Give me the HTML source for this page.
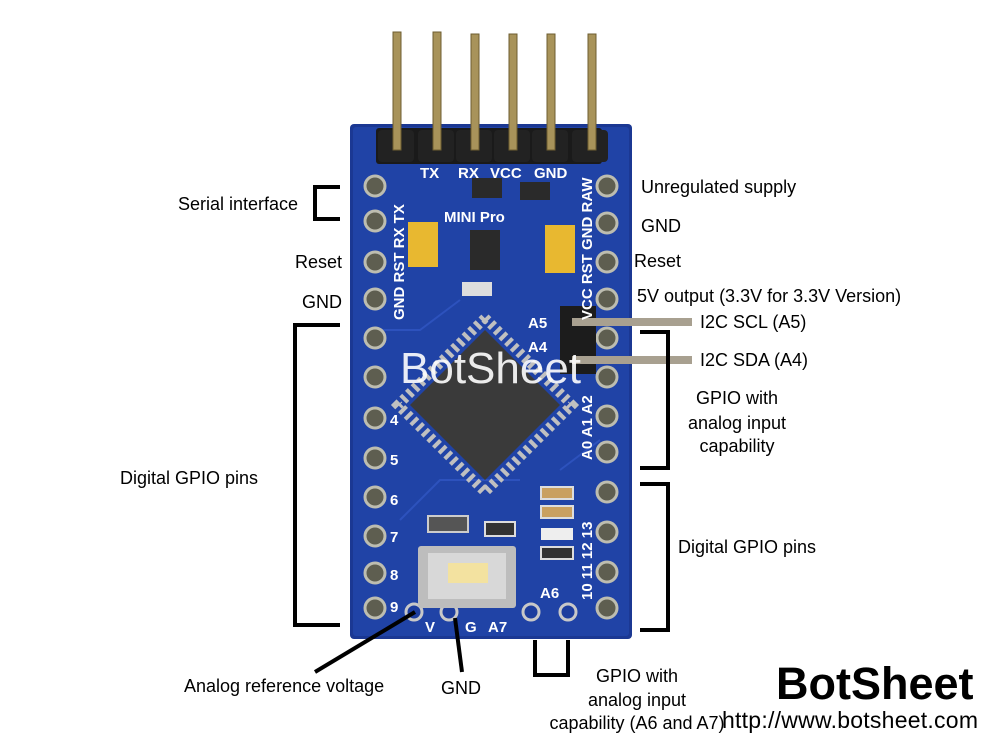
<!DOCTYPE html>
<html><head><meta charset="utf-8"><style>
html,body{margin:0;padding:0;background:#fff;width:1000px;height:750px;overflow:hidden}
svg{display:block}
text{font-family:"Liberation Sans",sans-serif;fill:#000}
</style></head><body>
<svg width="1000" height="750" viewBox="0 0 1000 750">
<rect x="350" y="124" width="282" height="515" rx="4" fill="#1b3893"/>
<rect x="353" y="127" width="276" height="509" rx="3" fill="#2043a6"/>
<g stroke="#2d52bd" stroke-width="2" fill="none">
<path d="M380 330 L420 330 L460 300"/><path d="M400 520 L440 480 L520 480"/><path d="M560 470 L600 440"/>
</g>
<rect x="376" y="128" width="226" height="36" rx="3" fill="#1a1a1a"/>
<g fill="#222"><rect x="378" y="130" width="36" height="32" rx="4"/><rect x="418" y="130" width="36" height="32" rx="4"/><rect x="456" y="130" width="36" height="32" rx="4"/><rect x="494" y="130" width="36" height="32" rx="4"/><rect x="532" y="130" width="36" height="32" rx="4"/><rect x="572" y="130" width="36" height="32" rx="4"/></g>
<g fill="#a8935a" stroke="#6e5e30" stroke-width="1">
<rect x="393" y="32" width="8" height="118"/><rect x="433" y="32" width="8" height="118"/><rect x="471" y="34" width="8" height="116"/><rect x="509" y="34" width="8" height="116"/><rect x="547" y="34" width="8" height="116"/><rect x="588" y="34" width="8" height="116"/>
</g>
<g fill="#5e5e50" stroke="#bdbdb0" stroke-width="3">
<circle cx="375" cy="186" r="10"/><circle cx="375" cy="221" r="10"/><circle cx="375" cy="262" r="10"/><circle cx="375" cy="299" r="10"/><circle cx="375" cy="338" r="10"/><circle cx="375" cy="377" r="10"/><circle cx="375" cy="418" r="10"/><circle cx="375" cy="458" r="10"/><circle cx="375" cy="497" r="10"/><circle cx="375" cy="536" r="10"/><circle cx="375" cy="573" r="10"/><circle cx="375" cy="608" r="10"/>
<circle cx="607" cy="186" r="10"/><circle cx="607" cy="223" r="10"/><circle cx="607" cy="262" r="10"/><circle cx="607" cy="299" r="10"/><circle cx="607" cy="338" r="10"/><circle cx="607" cy="377" r="10"/><circle cx="607" cy="416" r="10"/><circle cx="607" cy="452" r="10"/><circle cx="607" cy="492" r="10"/><circle cx="607" cy="532" r="10"/><circle cx="607" cy="572" r="10"/><circle cx="607" cy="608" r="10"/>
</g>
<g fill="#1d3d9e" stroke="#c8c8c8" stroke-width="3"><circle cx="414" cy="612" r="8"/><circle cx="449" cy="612" r="8"/><circle cx="531" cy="612" r="8"/><circle cx="568" cy="612" r="8"/></g>
<rect x="408" y="222" width="30" height="45" fill="#e8b830"/><rect x="545" y="225" width="30" height="48" fill="#e8b830"/>
<rect x="472" y="178" width="30" height="20" fill="#2a2a2a"/><rect x="520" y="182" width="30" height="18" fill="#2a2a2a"/>
<rect x="470" y="230" width="30" height="40" fill="#2a2a2a"/>
<rect x="462" y="282" width="30" height="14" fill="#ddd"/>
<rect x="541" y="487" width="32" height="12" fill="#c9a060" stroke="#ddd" stroke-width="2"/><rect x="541" y="506" width="32" height="12" fill="#c9a060" stroke="#ddd" stroke-width="2"/>
<rect x="541" y="528" width="32" height="12" fill="#eee"/><rect x="541" y="547" width="32" height="12" fill="#333" stroke="#ddd" stroke-width="2"/>
<rect x="428" y="516" width="40" height="16" fill="#555" stroke="#ccc" stroke-width="2"/><rect x="485" y="522" width="30" height="14" fill="#333" stroke="#ddd" stroke-width="2"/>
<polygon points="485,318 572,405 485,492 398,405" fill="none" stroke="#c0c0c0" stroke-width="10" stroke-dasharray="4 4"/>
<polygon points="485,330 560,405 485,480 410,405" fill="#3a3a3a"/>
<rect x="418" y="546" width="98" height="62" rx="3" fill="#bdbdbd"/><rect x="428" y="553" width="78" height="46" fill="#d8d8d8"/><rect x="448" y="563" width="40" height="20" fill="#f3e2a0"/>
<rect x="560" y="306" width="36" height="68" fill="#1c1c1c"/>
<rect x="572" y="318" width="120" height="8" fill="#a8a090"/><rect x="572" y="356" width="120" height="8" fill="#a8a090"/>
<g font-weight="bold" font-size="15">
<text x="420" y="178" style="fill:#fff">TX</text><text x="458" y="178" style="fill:#fff">RX</text><text x="490" y="178" style="fill:#fff">VCC</text><text x="534" y="178" style="fill:#fff">GND</text>
<text x="444" y="222" style="fill:#fff">MINI Pro</text>
<text x="528" y="328" style="fill:#fff">A5</text><text x="528" y="352" style="fill:#fff">A4</text>
<text x="540" y="598" style="fill:#fff">A6</text><text x="488" y="632" style="fill:#fff">A7</text><text x="425" y="632" style="fill:#fff">V</text><text x="465" y="632" style="fill:#fff">G</text>
<text x="390" y="425" style="fill:#fff">4</text><text x="390" y="465" style="fill:#fff">5</text><text x="390" y="505" style="fill:#fff">6</text><text x="390" y="542" style="fill:#fff">7</text><text x="390" y="580" style="fill:#fff">8</text><text x="390" y="612" style="fill:#fff">9</text>
<text transform="translate(404,320) rotate(-90)" style="fill:#fff">GND RST RX TX</text>
<text transform="translate(592,320) rotate(-90)" style="fill:#fff">VCC RST GND RAW</text>
<text transform="translate(592,460) rotate(-90)" style="fill:#fff">A0  A1  A2</text>
<text transform="translate(592,600) rotate(-90)" style="fill:#fff">10 11 12 13</text>
</g>
<text x="400" y="383" font-size="44" style="fill:#fff;opacity:0.9">BotSheet</text>
<g stroke="#000" stroke-width="4" fill="none">
<path d="M340 187 H315 V219 H340"/>
<path d="M340 325 H295 V625 H340"/>
<path d="M640 332 H668 V468 H640"/>
<path d="M640 484 H668 V630 H640"/>
<path d="M315 672 L415 612"/>
<path d="M455 618 L462 672"/>
<path d="M535 640 V675 H568 V640"/>
</g>
<g font-size="18">
<text x="298" y="210" text-anchor="end">Serial interface</text>
<text x="342" y="268" text-anchor="end">Reset</text>
<text x="342" y="308" text-anchor="end">GND</text>
<text x="120" y="484">Digital GPIO pins</text>
<text x="641" y="193">Unregulated supply</text>
<text x="641" y="232">GND</text>
<text x="634" y="267">Reset</text>
<text x="637" y="302">5V output (3.3V for 3.3V Version)</text>
<text x="700" y="328">I2C SCL (A5)</text>
<text x="700" y="366">I2C SDA (A4)</text>
<text x="737" y="404" text-anchor="middle">GPIO with</text>
<text x="737" y="429" text-anchor="middle">analog input</text>
<text x="737" y="452" text-anchor="middle">capability</text>
<text x="678" y="553">Digital GPIO pins</text>
<text x="184" y="692">Analog reference voltage</text>
<text x="441" y="694">GND</text>
<text x="637" y="682" text-anchor="middle">GPIO with</text>
<text x="637" y="706" text-anchor="middle">analog input</text>
<text x="637" y="729" text-anchor="middle">capability (A6 and A7)</text>
</g>
<text x="776" y="699" font-size="45" font-weight="bold">BotSheet</text>
<text x="722" y="728" font-size="23" textLength="256">http://www.botsheet.com</text>
</svg>
</body></html>
